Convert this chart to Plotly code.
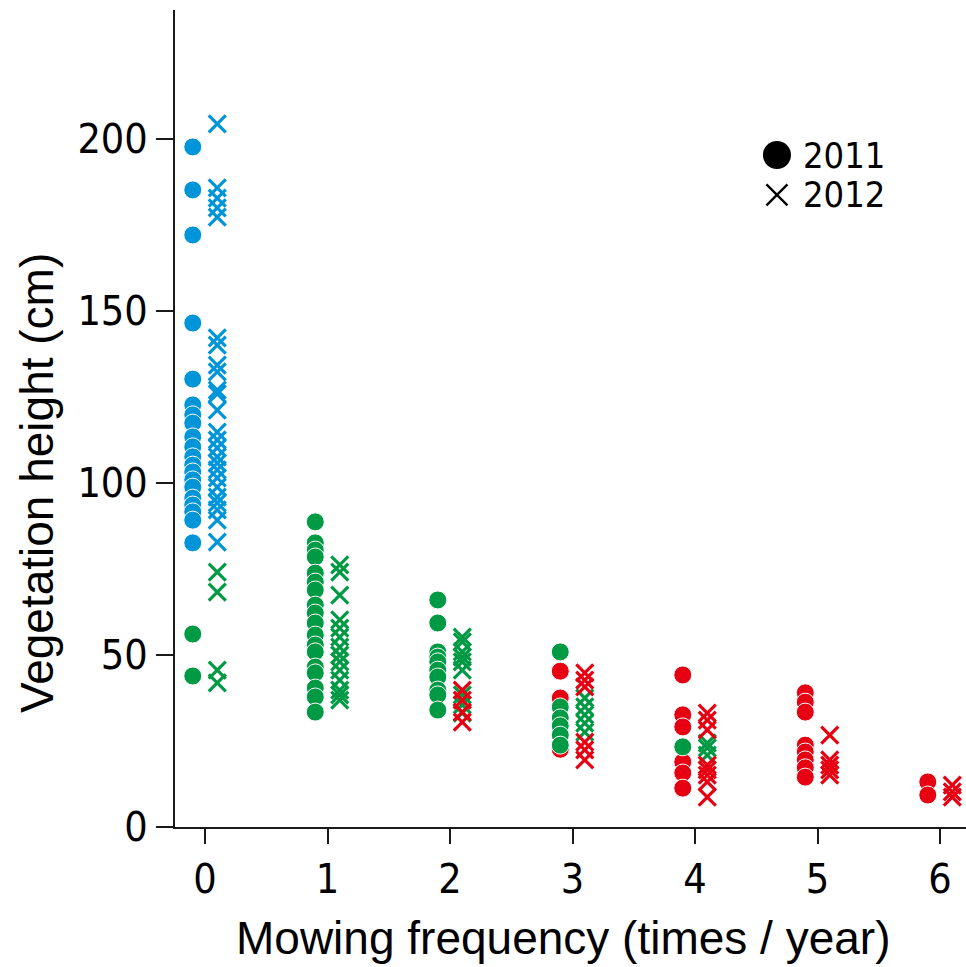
import plotly.graph_objects as go

# Mowing frequency (times / year) and vegetation height (cm) per plot.
# Colour marks the vegetation group; 2011 = filled circle, 2012 = cross.

# ---- 2011 ----
freq_2011_blue = [0] * 20
height_2011_blue = [197.7, 185.2, 172.1, 146.5, 130.2, 122.7, 119.8, 117.4, 113.4, 110.5,
                    107.6, 105.2, 103.2, 100.9, 98.8, 95.6, 93.6, 91.6, 89.2, 82.6]

freq_2011_green = [0, 0,
                   1, 1, 1, 1, 1, 1, 1, 1, 1, 1, 1, 1, 1, 1, 1, 1, 1, 1,
                   2, 2, 2, 2, 2, 2, 2, 2, 2, 2,
                   3, 3, 3, 3, 3, 3,
                   4]
height_2011_green = [56.1, 43.9,
                     88.7, 82.6, 80.5, 78.5, 73.8, 71.2, 68.9, 64.5, 62.2, 59.3, 55.8, 52.9,
                     50.9, 46.5, 44.8, 40.4, 37.8, 33.4,
                     66.0, 59.3, 50.9, 49.4, 48.0, 45.6, 43.6, 39.8, 38.4, 34.0,
                     50.9, 34.9, 31.7, 29.4, 26.7, 23.8,
                     23.3]

freq_2011_red = [3, 3, 3,
                 4, 4, 4, 4, 4, 4,
                 5, 5, 5, 5, 5, 5, 5, 5,
                 6, 6]
height_2011_red = [45.3, 37.5, 22.6,
                   44.2, 32.6, 29.1, 18.9, 15.7, 11.3,
                   39.0, 36.3, 33.4, 23.8, 21.8, 19.5, 17.2, 14.5,
                   13.1, 9.3]

# ---- 2012 ----
freq_2012_blue = [0] * 25
height_2012_blue = [204.4, 185.8, 182.8, 180.0, 177.3, 142.2, 140.1, 134.3, 132.3, 127.0,
                    125.9, 121.2, 114.8, 112.5, 110.2, 107.6, 105.8, 103.8, 101.5, 98.8,
                    95.9, 94.2, 92.2, 89.2, 82.8]

freq_2012_green = [0, 0, 0, 0,
                   1, 1, 1, 1, 1, 1, 1, 1, 1, 1, 1, 1, 1, 1,
                   2, 2, 2, 2, 2, 2, 2, 2, 2,
                   3, 3, 3, 3, 3,
                   4, 4, 4]
height_2012_green = [74.1, 68.3, 45.6, 41.9,
                     76.2, 74.1, 67.4, 60.2, 57.8, 55.2, 52.3, 50.0, 48.0, 45.6, 42.7, 39.8,
                     38.4, 36.9,
                     55.2, 53.8, 50.9, 49.4, 48.0, 45.6, 38.4, 35.5, 33.1,
                     37.5, 34.9, 32.6, 30.2, 27.6,
                     24.4, 23.0, 20.9]

freq_2012_red = [2, 2, 2, 2,
                 3, 3, 3, 3, 3, 3,
                 4, 4, 4, 4, 4, 4, 4, 4,
                 5, 5, 5, 5, 5,
                 6, 6, 6]
height_2012_red = [39.8, 36.9, 33.4, 30.5,
                   44.8, 42.7, 40.7, 24.7, 22.4, 19.5,
                   33.1, 31.1, 28.2, 18.0, 16.6, 15.1, 13.1, 8.7,
                   26.7, 19.5, 18.0, 16.6, 15.1,
                   12.2, 10.2, 8.7]

x_ticks = [0, 1, 2, 3, 4, 5, 6]
y_ticks = [0, 50, 100, 150, 200]
years = ["2011", "2012"]
x_title = "Mowing frequency (times / year)"
y_title = "Vegetation height (cm)"

BLUE = "#0095d9"
GREEN = "#009944"
RED = "#e60012"
AXIS = "#1a1a1a"
FONT = "Liberation Sans"
NARROW = "Liberation Sans Narrow, DejaVu Sans Condensed, Liberation Sans"

# Year offset so the two years sit side by side at each frequency
OFFSET = {"2011": -0.1, "2012": 0.1}

fig = go.Figure()


def circles(freq, height, color):
    fig.add_trace(go.Scatter(
        x=[f + OFFSET["2011"] for f in freq], y=height, mode="markers",
        marker=dict(symbol="circle", size=18, color=color,
                    line=dict(color="white", width=1)),
        showlegend=False, hoverinfo="x+y"))


def crosses(freq, height, color):
    fig.add_trace(go.Scatter(
        x=[f + OFFSET["2012"] for f in freq], y=height, mode="markers",
        marker=dict(symbol="x-thin", size=17, color=color,
                    line=dict(color=color, width=3.2)),
        showlegend=False, hoverinfo="x+y"))


circles(freq_2011_blue, height_2011_blue, BLUE)
circles(freq_2011_red, height_2011_red, RED)
circles(freq_2011_green, height_2011_green, GREEN)
crosses(freq_2012_blue, height_2012_blue, BLUE)
crosses(freq_2012_green, height_2012_green, GREEN)
crosses(freq_2012_red, height_2012_red, RED)

# Key for the two years, drawn on an overlay axis in unit (0..1) space
key_x = [0.761, 0.761]
key_y = [0.8225, 0.7736]
fig.add_trace(go.Scatter(
    x=key_x[:1], y=key_y[:1], xaxis="x2", yaxis="y2", mode="markers",
    marker=dict(symbol="circle", size=28, color="black"),
    showlegend=False, hoverinfo="skip"))
fig.add_trace(go.Scatter(
    x=key_x[1:], y=key_y[1:], xaxis="x2", yaxis="y2", mode="markers",
    marker=dict(symbol="x-thin", size=21, color="black",
                line=dict(color="black", width=2.4)),
    showlegend=False, hoverinfo="skip"))
for yk, label in zip(key_y, years):
    fig.add_annotation(xref="x2", yref="y2", x=0.792, y=yk, text=label,
                       showarrow=False, xanchor="left", yanchor="middle",
                       font=dict(size=36, family=NARROW, color="black"))

# Axis titles
fig.add_annotation(xref="paper", yref="paper", x=0.49, y=-0.136, text=x_title,
                   showarrow=False, xanchor="center", yanchor="middle",
                   font=dict(size=46, family=FONT, color="black"))
fig.add_annotation(xref="paper", yref="paper", x=-0.1745, y=0.421, text=y_title,
                   textangle=-90, showarrow=False, xanchor="center", yanchor="middle",
                   font=dict(size=46, family=FONT, color="black"))

fig.update_layout(
    width=966, height=967,
    margin=dict(l=175, r=0, t=10, b=140),
    paper_bgcolor="white", plot_bgcolor="white",
    font=dict(family=FONT, color="black"),
    showlegend=False,
    xaxis=dict(
        range=[-0.245, 6.212], tickvals=x_ticks, ticktext=[str(v) for v in x_ticks],
        showgrid=False, zeroline=False, showline=True, linecolor=AXIS, linewidth=2,
        ticks="outside", ticklen=15, tickwidth=2, tickcolor=AXIS,
        tickfont=dict(size=41, family=NARROW),
    ),
    yaxis=dict(
        range=[0, 237.5], tickvals=y_ticks, ticktext=[str(v) for v in y_ticks],
        showgrid=False, zeroline=False, showline=True, linecolor=AXIS, linewidth=2,
        ticks="outside", ticklen=17, tickwidth=2, tickcolor=AXIS,
        tickfont=dict(size=41, family=NARROW),
    ),
    xaxis2=dict(overlaying="x", range=[0, 1], visible=False, fixedrange=True),
    yaxis2=dict(overlaying="y", range=[0, 1], visible=False, fixedrange=True),
)

fig.write_html("out.html")
